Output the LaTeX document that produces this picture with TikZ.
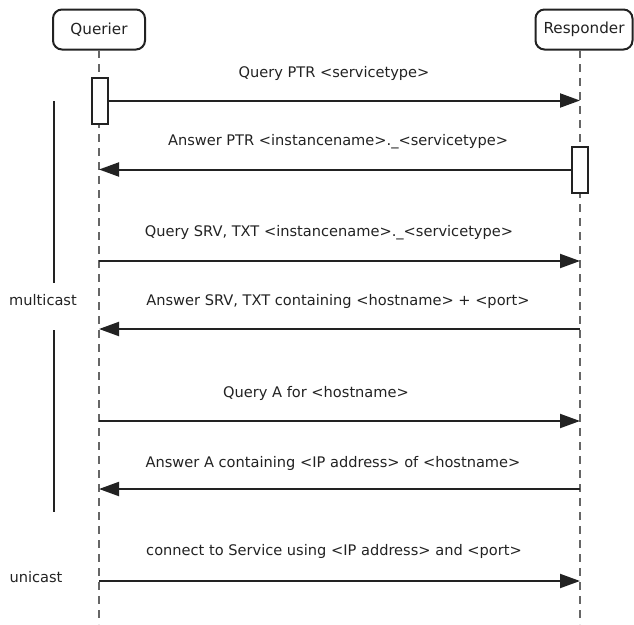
\documentclass[tikz,border=0pt]{standalone}
\usepackage{fontspec}
\setmainfont{DejaVu Sans}
\usetikzlibrary{arrows.meta}
\definecolor{ink}{HTML}{222222}
\definecolor{life}{HTML}{666666}
\tikzset{
  actor/.style={draw=ink, line width=2pt, rounded corners=9pt, fill=white, text=ink, font=\fontsize{15.2}{17}\selectfont},
  lifeline/.style={draw=life, line width=1.3pt, dash pattern=on 8pt off 6pt},
  actbox/.style={draw=ink, line width=2pt, fill=white},
  msg/.style={draw=ink, line width=2pt, -{Triangle[length=20pt,width=14pt]}},
  lbl/.style={text=ink, font=\fontsize{14.6}{17}\selectfont, inner sep=0pt},
  bar/.style={draw=ink, line width=2.2pt},
}
\begin{document}
\begin{tikzpicture}[x=1pt,y=-1pt]
\useasboundingbox (0,0) rectangle (634,624);
% actors
\node[actor, minimum width=92pt, minimum height=40pt] (querier) at (99,29.5) {Querier};
\node[actor, minimum width=97pt, minimum height=40pt] (responder) at (584,29.5) {Responder};
% lifelines
\coordinate (qtop) at (99,50);
\coordinate (qbot) at (99,624);
\coordinate (rtop) at (580,50);
\coordinate (rbot) at (580,624);
\draw[lifeline] (qtop) -- (qbot);
\draw[lifeline] (rtop) -- (rbot);
% activation boxes
\node[actbox, minimum width=16pt, minimum height=46pt, inner sep=0pt] (qact) at (99.5,100.5) {};
\node[actbox, minimum width=16pt, minimum height=46pt, inner sep=0pt] (ract) at (580,169.5) {};
% endpoints
\coordinate (r1) at (580,100.5);
\coordinate (q2) at (99,169.5);
\coordinate (q3) at (99,261); \coordinate (r3) at (580,261);
\coordinate (q4) at (99,329); \coordinate (r4) at (580,329);
\coordinate (q5) at (99,421); \coordinate (r5) at (580,421);
\coordinate (q6) at (99,489); \coordinate (r6) at (580,489);
\coordinate (q7) at (99,581); \coordinate (r7) at (580,581);
% messages
\draw[msg] (qact.east) -- (r1);
\node[lbl] (l1) at (334,73) {Query PTR <servicetype>};
\draw[msg] (ract.west) -- (q2);
\node[lbl] (l2) at (338,142) {Answer PTR <instancename>.\_<servicetype>};
\draw[msg] (q3) -- (r3);
\node[lbl] (l3) at (329,233) {Query SRV, TXT <instancename>.\_<servicetype>};
\draw[msg] (r4) -- (q4);
\node[lbl] (l4) at (338,301) {Answer SRV, TXT containing <hostname> + <port>};
\draw[msg] (q5) -- (r5);
\node[lbl] (l5) at (316,393) {Query A for <hostname>};
\draw[msg] (r6) -- (q6);
\node[lbl] (l6) at (333,463) {Answer A containing <IP address> of <hostname>};
\draw[msg] (q7) -- (r7);
\node[lbl] (l7) at (334,551) {connect to Service using <IP address> and <port>};
% multicast / unicast
\node[lbl] (mc) at (43,300) {multicast};
\node[lbl] (uc) at (36,577) {unicast};
\coordinate (b1) at (54,101);
\coordinate (b2) at (54,283);
\coordinate (b3) at (54,330);
\coordinate (b4) at (54,512);
\draw[bar] (b1) -- (b2);
\draw[bar] (b3) -- (b4);
\end{tikzpicture}
\end{document}
